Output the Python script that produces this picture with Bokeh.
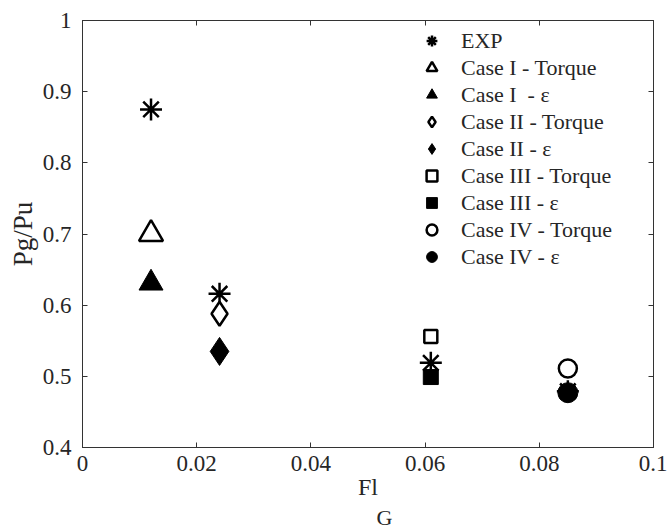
from bokeh.plotting import figure
from bokeh.models import (Legend, LegendItem, LinearAxis, FixedTicker, Title, Range1d)
from bokeh.embed import file_html
from bokeh.resources import INLINE

# ---- data ----
fl_exp = [0.012, 0.024, 0.061, 0.085]
pg_exp = [0.875, 0.616, 0.519, 0.479]

fl_case1 = [0.012]
pg_case1_torque = [0.700]
pg_case1_eps = [0.631]

fl_case2 = [0.024]
pg_case2_torque = [0.588]
pg_case2_eps = [0.535]

fl_case3 = [0.061]
pg_case3_torque = [0.556]
pg_case3_eps = [0.499]

fl_case4 = [0.085]
pg_case4_torque = [0.511]
pg_case4_eps = [0.477]

x_ticks = [0, 0.02, 0.04, 0.06, 0.08, 0.1]
x_tick_labels = ["0", "0.02", "0.04", "0.06", "0.08", "0.1"]
y_ticks = [0.4, 0.5, 0.6, 0.7, 0.8, 0.9, 1.0]
y_tick_labels = ["0.4", "0.5", "0.6", "0.7", "0.8", "0.9", "1"]

FONT = "Liberation Serif"
TXT = "#262626"

p = figure(width=667, height=529, output_backend="svg", toolbar_location=None,
           x_range=Range1d(0, 0.1), y_range=Range1d(0.4, 1.0),
           min_border_left=82, min_border_right=14, min_border_top=20, min_border_bottom=79)
p.xgrid.visible = False
p.ygrid.visible = False
p.outline_line_color = "#444444"
p.outline_line_width = 1
p.background_fill_color = "white"
p.border_fill_color = "white"

def style_axis(ax, ticks, labels, show_labels):
    ax.ticker = FixedTicker(ticks=ticks)
    ax.minor_tick_line_color = None
    ax.major_tick_in = 5
    ax.major_tick_out = 0
    ax.major_tick_line_color = "#333333"
    ax.axis_line_color = "#333333"
    ax.major_label_text_font = FONT
    ax.major_label_text_color = TXT
    if show_labels:
        ax.major_label_overrides = {t: l for t, l in zip(ticks, labels)}
        ax.major_label_text_font_size = "23px"
    else:
        ax.major_label_overrides = {t: "" for t in ticks}
        ax.major_label_text_font_size = "1px"
        ax.major_label_standoff = 0

xa = p.xaxis[0]
ya = p.yaxis[0]
style_axis(xa, x_ticks, x_tick_labels, True)
style_axis(ya, y_ticks, y_tick_labels, True)
xa.major_label_standoff = 8
ya.major_label_standoff = 11

xa.axis_label = "Fl"
xa.axis_label_text_font = FONT
xa.axis_label_text_font_style = "normal"
xa.axis_label_text_font_size = "24px"
xa.axis_label_text_color = TXT
xa.axis_label_standoff = 0

ya.axis_label = "Pg/Pu"
ya.axis_label_text_font = FONT
ya.axis_label_text_font_style = "normal"
ya.axis_label_text_font_size = "27px"
ya.axis_label_text_color = TXT
ya.axis_label_standoff = 2

top = LinearAxis()
right = LinearAxis()
style_axis(top, x_ticks, x_tick_labels, False)
style_axis(right, y_ticks, y_tick_labels, False)
p.add_layout(top, "above")
p.add_layout(right, "right")

# subscript G of the x-axis label (stacked under the axis, right of "Fl")
sub_g = Title(text="G", align="left", offset=294, standoff=0,
              text_font=FONT, text_font_size="22px", text_font_style="normal",
              text_color=TXT)
p.add_layout(sub_g, "below")

K = "black"
LW = 2.5
r_exp = p.scatter(fl_exp, pg_exp, marker="asterisk", size=22, line_color=K, line_width=LW)
r1t = p.scatter(fl_case1, pg_case1_torque, marker="triangle", size=24, line_color=K,
                fill_color="white", line_width=LW)
r1e = p.scatter(fl_case1, pg_case1_eps, marker="triangle", size=24, line_color=K,
                fill_color=K, line_width=1)
r2t = p.scatter(fl_case2, pg_case2_torque, marker="diamond", size=24, line_color=K,
                fill_color="white", line_width=LW)
r2e = p.scatter(fl_case2, pg_case2_eps, marker="diamond", size=28, line_color=K,
                fill_color=K, line_width=1)
r3t = p.scatter(fl_case3, pg_case3_torque, marker="square", size=13, line_color=K,
                fill_color="white", line_width=LW)
r3e = p.scatter(fl_case3, pg_case3_eps, marker="square", size=15, line_color=K,
                fill_color=K, line_width=1)
r4t = p.scatter(fl_case4, pg_case4_torque, marker="circle", size=18, line_color=K,
                fill_color="white", line_width=LW)
r4e = p.scatter(fl_case4, pg_case4_eps, marker="circle", size=20, line_color=K,
                fill_color=K, line_width=1)

items = [
    LegendItem(label="EXP", renderers=[r_exp]),
    LegendItem(label="Case I - Torque", renderers=[r1t]),
    LegendItem(label="Case I  - \u03b5", renderers=[r1e]),
    LegendItem(label="Case II - Torque", renderers=[r2t]),
    LegendItem(label="Case II - \u03b5", renderers=[r2e]),
    LegendItem(label="Case III - Torque", renderers=[r3t]),
    LegendItem(label="Case III - \u03b5", renderers=[r3e]),
    LegendItem(label="Case IV - Torque", renderers=[r4t]),
    LegendItem(label="Case IV - \u03b5", renderers=[r4e]),
]
legend = Legend(items=items, location=(336, 177), glyph_width=27, glyph_height=27,
                label_height=27, spacing=0, padding=0, margin=0, label_standoff=16,
                label_text_font=FONT, label_text_font_size="22px", label_text_color=TXT,
                border_line_color=None, background_fill_alpha=0)
p.add_layout(legend, "center")

open("out.html", "w").write(file_html(p, INLINE))
